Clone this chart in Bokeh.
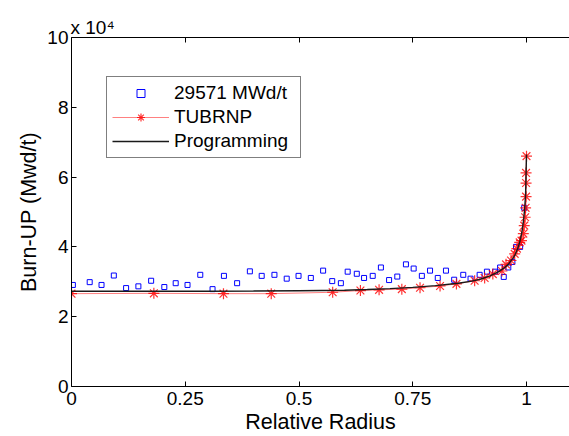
from bokeh.plotting import figure
from bokeh.models import Range1d, FixedTicker, LinearAxis, Legend, LegendItem
from bokeh.embed import file_html
from bokeh.resources import INLINE

# ---- data ----
meas_x = [0.003, 0.040, 0.066, 0.093, 0.120, 0.147, 0.175, 0.204, 0.229, 0.255,
          0.283, 0.310, 0.335, 0.364, 0.392, 0.418, 0.446, 0.473, 0.499, 0.526,
          0.553, 0.573, 0.592, 0.607, 0.627, 0.643, 0.662, 0.680, 0.698, 0.716,
          0.735, 0.752, 0.770, 0.788, 0.805, 0.823, 0.841, 0.861, 0.877, 0.897,
          0.913, 0.931, 0.942, 0.950, 0.960, 0.969, 0.977, 0.986, 0.995]
meas_y = [29100, 29900, 29100, 31800, 28200, 28700, 30300, 28500, 29600, 29100,
          32000, 27900, 31700, 29600, 33000, 31700, 32000, 30900, 31700, 31100,
          33200, 30200, 29600, 32900, 32300, 31100, 31700, 34100, 30500, 31500,
          35000, 33800, 31700, 33200, 31100, 33200, 30600, 32000, 30900, 32000,
          32900, 32900, 34100, 31400, 34100, 35700, 40000, 40000, 51200]

tub_x = [0.0, 0.181, 0.334, 0.439, 0.574, 0.635, 0.676, 0.726, 0.766, 0.810,
         0.846, 0.886, 0.908, 0.926, 0.946, 0.955, 0.966, 0.974, 0.979, 0.985,
         0.989, 0.993, 0.995, 0.997, 0.998, 0.999, 0.999, 0.999, 1.0]
tub_y = [26600, 26700, 26600, 26600, 27000, 27500, 27700, 27900, 28300, 28800,
         29400, 30300, 31100, 32200, 33100, 35000, 36100, 38000, 39500, 41300,
         41800, 43800, 46100, 48500, 51200, 54400, 58300, 61200, 66000]

prog_x = [0.0, 0.1, 0.2, 0.3, 0.4, 0.5, 0.6, 0.65, 0.7, 0.75, 0.8, 0.85, 0.88,
          0.9, 0.92, 0.94, 0.95, 0.96, 0.97, 0.975, 0.98, 0.985, 0.99, 0.993,
          0.996, 0.998, 1.0]
prog_y = [27300, 27300, 27300, 27300, 27350, 27450, 27600, 27800, 28050, 28400,
          28900, 29600, 30200, 30800, 31700, 33000, 33900, 35000, 36700, 37800,
          39300, 41300, 44300, 47000, 51000, 55000, 66500]

x_ticks = [0, 0.25, 0.5, 0.75, 1]
x_tick_labels = ["0", "0.25", "0.5", "0.75", "1"]
y_ticks = [0, 20000, 40000, 60000, 80000, 100000]
y_tick_labels = ["0", "2", "4", "6", "8", "10"]
y_multiplier = "x 10\u2074"

FONT = "Liberation Sans"

p = figure(width=569, height=436, output_backend="svg", toolbar_location=None,
           x_range=Range1d(0, 1.0945), y_range=Range1d(0, 100000),
           min_border_left=71, min_border_right=0, min_border_top=37, min_border_bottom=50)
p.outline_line_color = None
p.xgrid.visible = False
p.ygrid.visible = False
p.background_fill_color = "white"
p.border_fill_color = "white"

for ax, ticks, labels in ((p.xaxis[0], x_ticks, x_tick_labels), (p.yaxis[0], y_ticks, y_tick_labels)):
    ax.ticker = FixedTicker(ticks=ticks)
    ax.major_label_overrides = {t: l for t, l in zip(ticks, labels)}
    ax.major_tick_in = 5
    ax.major_tick_out = 0
    ax.minor_tick_line_color = None
    ax.major_label_text_font = FONT
    ax.major_label_text_font_size = "19px"
    ax.major_label_text_color = "black"
    ax.axis_line_color = "black"
    ax.major_tick_line_color = "black"
    ax.axis_label_text_font = FONT
    ax.axis_label_text_font_size = "21.5px"
    ax.axis_label_text_font_style = "normal"
    ax.axis_label_text_color = "black"

p.xaxis.axis_label = "Relative Radius"
p.yaxis.axis_label = "Burn-UP (Mwd/t)"
p.xaxis.major_label_standoff = 5
p.xaxis.axis_label_standoff = 2
p.yaxis.major_label_standoff = 3
p.yaxis.axis_label_standoff = 3

top = LinearAxis(ticker=FixedTicker(ticks=x_ticks), major_tick_in=5, major_tick_out=0,
                 minor_tick_line_color=None, major_label_standoff=0,
                 major_label_overrides={t: "" for t in x_ticks},
                 axis_line_color="black", major_tick_line_color="black")
p.add_layout(top, "above")

p.title.text = y_multiplier
p.title.align = "left"
p.title.offset = -1
p.title.standoff = 0
p.title.text_font = FONT
p.title.text_font_size = "19px"
p.title.text_font_style = "normal"
p.title.text_color = "black"

r_meas = p.scatter(meas_x, meas_y, marker="square", size=5, fill_color=None,
                   line_color="blue", line_width=1)
r_tub_line = p.line(tub_x, tub_y, line_color="#ff8080", line_width=1)
r_tub_pts = p.scatter(tub_x, tub_y, marker="asterisk", size=11, line_color="red",
                      line_width=1.2, line_alpha=0.8)
r_prog = p.line(prog_x, prog_y, line_color="#1a1a1a", line_width=1.4)

legend = Legend(items=[
    LegendItem(label="29571 MWd/t", renderers=[r_meas]),
    LegendItem(label="TUBRNP", renderers=[r_tub_line, r_tub_pts]),
    LegendItem(label="Programming", renderers=[r_prog]),
], location=(35, 228))
legend.label_text_font = FONT
legend.label_text_font_size = "19px"
legend.label_text_color = "black"
legend.glyph_width = 57
legend.glyph_height = 20
legend.label_standoff = 5
legend.label_height = 20
legend.label_width = 121
legend.spacing = 2
legend.padding = 5
legend.margin = 0
legend.border_line_color = "black"
legend.border_line_width = 1
legend.background_fill_color = "white"
legend.background_fill_alpha = 1
p.add_layout(legend, "center")

open("out.html", "w").write(file_html(p, INLINE))
